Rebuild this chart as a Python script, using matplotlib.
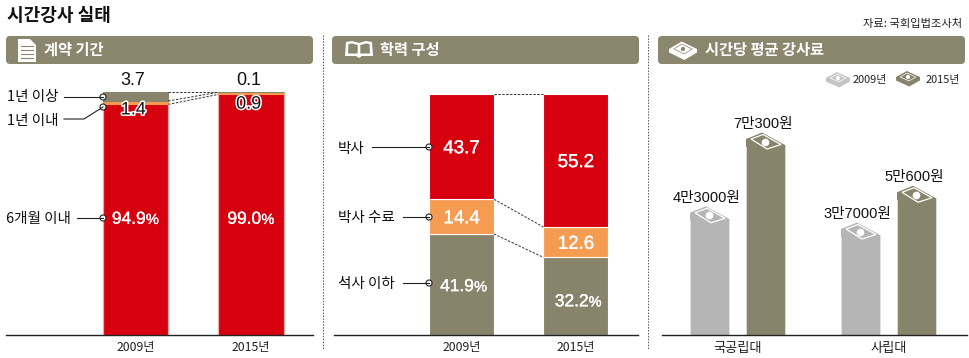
#!/usr/bin/env python3

import matplotlib
matplotlib.use('Agg')
import matplotlib.pyplot as plt
import matplotlib.patheffects as pe
from matplotlib.patches import FancyBboxPatch, Polygon, Circle

plt.rcParams['font.family'] = ['Noto Sans CJK KR', 'DejaVu Sans']

# data
years = ['2009년', '2015년']
contract_names = ['6개월 이내', '1년 이내', '1년 이상']
contract_6m = [94.9, 99.0]
contract_1y = [1.4, 0.9]
contract_over = [3.7, 0.1]

degree_below = [41.9, 32.2]
degree_course = [14.4, 12.6]
degree_phd = [43.7, 55.2]

schools = ['국공립대', '사립대']
fee_2009 = [43000, 37000]
fee_2015 = [70300, 50600]
fee_2009_labels = ['4만3000원', '3만7000원']
fee_2015_labels = ['7만300원', '5만600원']

RED = '#D7000F'
ORANGE = '#F59B52'
OLIVE = '#88836B'
GREY = '#B5B5B5'
HEAD = '#8B866E'
W, H = 970, 358
NUM = ['Liberation Sans', 'Noto Sans CJK KR']
thin = [pe.withStroke(linewidth=0.25, foreground='white')]

fig = plt.figure(figsize=(W / 100, H / 100), dpi=100)


def panel(x0, x1, top, base):
    ax = fig.add_axes([x0 / W, 1 - base / H, (x1 - x0) / W, (base - top) / H])
    ax.patch.set_alpha(0)
    for s in ['left', 'right', 'top']:
        ax.spines[s].set_visible(False)
    ax.spines['bottom'].set_linewidth(1.0)
    ax.spines['bottom'].set_color('#222222')
    ax.set_yticks([])
    ax.tick_params(axis='x', length=0, pad=4.5, labelsize=8.8, labelcolor='#222222')
    return ax


def pct_label(ax, x, y, s, color='white', dy=-1.5):
    ax.annotate(s, (x, y), xytext=(0, dy), textcoords='offset points', ha='right', va='center',
                family=NUM, fontsize=12.5, color=color, path_effects=thin)
    ax.annotate('%', (x, y), xytext=(0, dy - 0.5), textcoords='offset points', ha='left', va='center',
                family=NUM, fontsize=10.5, color=color, path_effects=thin)


def stack(ax, pos, width, layers, colors, edges):
    bottom = [0, 0]
    tops = []
    for vals, c, e in zip(layers, colors, edges):
        ax.bar(pos, vals, width, bottom=bottom, color=c, edgecolor=e, linewidth=0.8)
        bottom = [b + v for b, v in zip(bottom, vals)]
        tops.append(bottom)
    # dashed connectors between the two bars
    for t in tops:
        ax.plot([pos[0] + width / 2, pos[1] - width / 2], t, color='#333333', lw=0.7,
                ls=(0, (2.5, 1.5)), clip_on=False)
    return tops


# first panel, contract length
ax1 = panel(6, 313, 92, 335)
ax1.set_xlim((6 - 135.5) / 115.5, (313 - 135.5) / 115.5)
ax1.set_ylim(0, 100)
w1 = 65.5 / 115.5
# own-colour edge keeps the very thin layers visible
stack(ax1, [0, 1], w1, [contract_6m, contract_1y, contract_over], [RED, ORANGE, OLIVE],
      ['none', ORANGE, OLIVE])
for i in range(2):
    # pale rim on the red part only
    ax1.vlines([i - w1 / 2, i + w1 / 2], 0, contract_6m[i], color='#F0A8A8', lw=0.9)
ax1.set_xticks([0, 1], years)
pct_label(ax1, 0.09, 48.5, f'{contract_6m[0]}')
pct_label(ax1, 1.09, 48.5, f'{contract_6m[1]}')
halo = [pe.withStroke(linewidth=2.2, foreground='white')]
for i in range(2):
    ax1.annotate(f'{contract_over[i]}', (i - 0.02, 100), xytext=(0, 2), textcoords='offset points',
                 ha='center', va='bottom', family=NUM, fontsize=13, color='#111111')
    ax1.annotate(f'{contract_1y[i]}', (i - 0.02, contract_6m[i]), xytext=(0, [-4, -7][i]),
                 textcoords='offset points', ha='center', va='center', family=NUM, fontsize=13,
                 color='#111111', path_effects=halo)

# second panel, degree
ax2 = panel(334, 638, 94, 335)
ax2.set_xlim((334 - 461.5) / 114.5, (638 - 461.5) / 114.5)
ax2.set_ylim(0, 100)
tops = stack(ax2, [0, 1], 65 / 114.5, [degree_below, degree_course, degree_phd],
             [OLIVE, ORANGE, RED], ['white'] * 3)
ax2.set_xticks([0, 1], years)
for i in range(2):
    ax2.annotate(f'{degree_phd[i]}', (i, tops[1][i] + degree_phd[i] / 2), xytext=(0, -1.5),
                 textcoords='offset points', ha='center', va='center', family=NUM, fontsize=13.5,
                 color='white', path_effects=thin)
    ax2.annotate(f'{degree_course[i]}', (i, tops[0][i] + degree_course[i] / 2), xytext=(0, -1.5),
                 textcoords='offset points', ha='center', va='center', family=NUM, fontsize=13.5,
                 color='white', path_effects=thin)
    pct_label(ax2, i + 0.11, degree_below[i] / 2, f'{degree_below[i]}', dy=[-1.5, -4][i])

# third panel, hourly fee
PX_WON = 370.0
ax3 = panel(662, 967, 100, 335)
ax3.set_xlim((662 - 737.5) / 151, (967 - 737.5) / 151)
ax3.set_ylim(0, 235 * PX_WON)
ax3.set_xticks([0, 1], schools)
ax3.tick_params(axis='x', labelsize=9.5, pad=5)
bw = 39 / 151
dx_px = 1 / 151
for vals, labs, off, col in [(fee_2009, fee_2009_labels, -28 / 151, GREY),
                             (fee_2015, fee_2015_labels, 28 / 151, OLIVE)]:
    ax3.bar([i + off for i in range(2)], vals, bw, color=col, edgecolor='#E4E4E4', linewidth=0.5)
    for i, v in enumerate(vals):
        l, r = i + off - bw / 2, i + off + bw / 2
        # note-shaped cap on the column
        ax3.add_patch(Polygon([(l, v + 6 * PX_WON), (l + 16 * dx_px, v + 12.5 * PX_WON), (r, v),
                               (r, v - 2 * PX_WON), (l, v - 2 * PX_WON)], fc=col, ec='none', clip_on=False))
        ax3.add_patch(Polygon([(l + 5 * dx_px, v + 6 * PX_WON), (l + 17 * dx_px, v + 10.5 * PX_WON),
                               (r - 4 * dx_px, v + 0.5 * PX_WON), (l + 21 * dx_px, v - 4 * PX_WON)],
                              fc='none', ec='white', lw=0.9, clip_on=False))
        ax3.plot(l + 19 * dx_px, v + 3.5 * PX_WON, 'o', ms=5.5, mfc='white', mec='none', clip_on=False)
        ax3.annotate(labs[i], (i + off, v), xytext=(-2, 10), textcoords='offset points', ha='center',
                     va='bottom', fontsize=10.5, color='#111111', family=NUM)

# decoration layer in pixel coordinates
ov = fig.add_axes([0, 0, 1, 1], zorder=5)
ov.set_xlim(0, W)
ov.set_ylim(H, 0)
ov.axis('off')
ov.patch.set_alpha(0)

ov.text(7, 15.5, '시간강사 실태', fontsize=13, fontweight='bold', va='center', color='#111111')
ov.text(962, 24.5, '자료: 국회입법조사처', fontsize=8.1, ha='right', va='center', color='#222222')

headers = [(6, 313, 44, '계약 기간'), (332, 639, 380, '학력 구성'), (658, 965, 705, '시간당 평균 강사료')]
for x0, x1, tx, s in headers:
    ov.add_patch(FancyBboxPatch((x0 + 4, 40), x1 - x0 - 8, 20, boxstyle='round,pad=4,rounding_size=4',
                                fc=HEAD, ec='none', mutation_aspect=1))
    ov.text(tx, 50, s, fontsize=11, fontweight='bold', color='white', va='center')

# dividers
for x in [323, 648]:
    ov.plot([x, x], [35, 350], color='#555555', lw=0.7, ls=(0, (1.5, 1.5)))

# document icon
ov.add_patch(Polygon([(18, 39), (30, 39), (36, 45), (36, 62), (18, 62)], fc='white', ec='none'))
for y in [46, 50, 54, 58]:
    ov.plot([21, 33], [y, y], color=HEAD, lw=0.8)

# book icon
ov.add_patch(Polygon([(346, 42), (352, 41), (359, 43), (366, 41), (372, 42), (373, 56), (362, 56),
                      (359, 58), (356, 56), (345, 56)], fc='white', ec='none'))
ov.add_patch(Polygon([(348.5, 44), (352, 43.5), (357.7, 45), (357.7, 53.5), (348, 53.5)], fc=HEAD, ec='none'))
ov.add_patch(Polygon([(360.3, 45), (366, 43.5), (369.5, 44), (370, 53.5), (360.3, 53.5)], fc=HEAD, ec='none'))


def note_icon(cx, cy, w, h, fc, bg):
    t = 3.5
    ov.add_patch(Polygon([(cx - w / 2, cy), (cx - w * 0.05, cy - h / 2), (cx + w / 2, cy),
                          (cx + w / 2, cy + t), (cx + w * 0.05, cy + h / 2 + t), (cx - w / 2, cy + t)],
                         fc=fc, ec='none'))
    ov.add_patch(Polygon([(cx - w * 0.33, cy), (cx - w * 0.04, cy - h * 0.33), (cx + w * 0.33, cy),
                          (cx + w * 0.04, cy + h * 0.33)], fc='none', ec=bg, lw=0.5))
    ov.add_patch(Circle((cx, cy), 2.1, fc=bg, ec='none'))


note_icon(683, 49, 28, 15, 'white', HEAD)
note_icon(838, 78, 24, 12, '#C4C4C4', 'white')
note_icon(908, 77, 24, 12, OLIVE, 'white')
ov.text(853, 79.5, years[0], fontsize=7.9, va='center', color='#222222')
ov.text(926, 79.5, years[1], fontsize=7.9, va='center', color='#222222')


def callout(label, tx, ty, pts):
    ov.text(tx, ty, label, fontsize=10.5, va='center', color='#111111')
    ov.plot([p[0] for p in pts], [p[1] for p in pts], color='#222222', lw=0.8)
    ov.add_patch(Circle(pts[-1], 3.0, fc='white', ec='#222222', lw=0.8))


callout(contract_names[2], 7, 97.5, [(64, 97), (103, 97)])
callout(contract_names[1], 7, 121, [(64, 119), (84, 119), (103, 107)])
callout(contract_names[0], 6, 219, [(77, 218), (103, 218)])
callout('박사', 338, 149, [(372, 147), (429, 147)])
callout('박사 수료', 338, 218, [(403, 217), (429, 217)])
callout('석사 이하', 338, 284, [(403, 283), (429, 283)])

fig.savefig('out.png', dpi=100)
